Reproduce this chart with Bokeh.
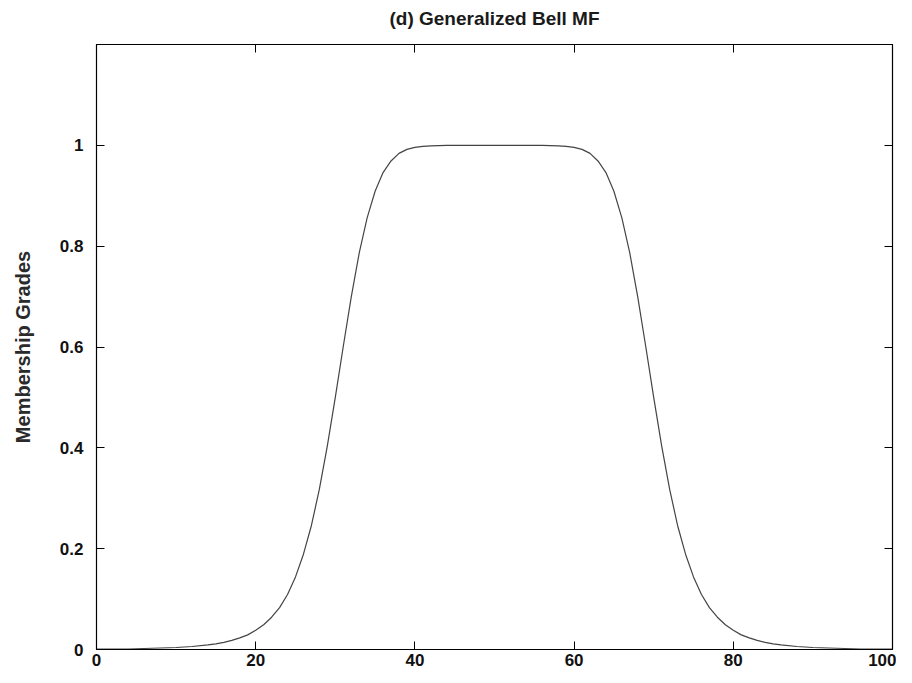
from bokeh.plotting import figure
from bokeh.models import LinearAxis, FixedTicker, Range1d, CustomJSTickFormatter
from bokeh.embed import file_html
from bokeh.resources import INLINE

x_vals = [0, 2, 4, 6, 8, 10, 12,
          14, 15, 16, 17, 18, 19, 20, 21, 22, 23, 24, 25, 26, 27, 28,
          29, 30, 31, 32, 33, 34, 35, 36, 37, 38, 39, 40, 41, 42,
          44, 46, 48, 50, 52, 54, 56,
          58, 59, 60, 61, 62, 63, 64, 65, 66, 67, 68, 69, 70, 71,
          72, 73, 74, 75, 76, 77, 78, 79, 80, 81, 82, 83, 84, 85, 86,
          88, 90, 92, 94, 96, 98, 100]
grades = [0.001, 0.001, 0.001, 0.002, 0.003, 0.004, 0.006,
          0.009, 0.011, 0.014, 0.018, 0.023, 0.029, 0.038, 0.049, 0.064, 0.083, 0.109,
          0.144, 0.189, 0.246, 0.318,
          0.404, 0.500, 0.601, 0.699, 0.786, 0.856, 0.909, 0.946, 0.969, 0.984, 0.992,
          0.996, 0.998, 0.999,
          1.000, 1.000, 1.000, 1.000, 1.000, 1.000, 1.000,
          0.999, 0.998, 0.996, 0.992, 0.984, 0.969, 0.946, 0.909, 0.856, 0.786, 0.699,
          0.601, 0.500, 0.404,
          0.318, 0.246, 0.189, 0.144, 0.109, 0.083, 0.064, 0.049, 0.038, 0.029, 0.023,
          0.018, 0.014, 0.011, 0.009,
          0.006, 0.004, 0.003, 0.002, 0.001, 0.001, 0.001]
x_ticks = [0, 20, 40, 60, 80, 100]
y_ticks = [0, 0.2, 0.4, 0.6, 0.8, 1]
y_tick_labels = {0: "0", 0.2: "0.2", 0.4: "0.4", 0.6: "0.6", 0.8: "0.8", 1: "1"}

FONT = "Liberation Sans"

p = figure(width=896, height=675, output_backend="svg", toolbar_location=None,
           x_range=Range1d(0, 100), y_range=Range1d(0, 1.2),
           min_border_left=96, min_border_right=4, min_border_top=43, min_border_bottom=26,
           title="(d) Generalized Bell MF")
p.title.align = "center"
p.title.text_font = FONT
p.title.text_font_size = "19px"
p.title.text_font_style = "bold"
p.title.text_color = "#1a1a1a"

p.line(x_vals, grades, line_color="#444444", line_width=1.2)

p.grid.visible = False
p.outline_line_color = "black"
p.outline_line_width = 1.2

for ax in p.xaxis:
    ax.ticker = FixedTicker(ticks=x_ticks)
    ax.major_tick_in = 8
    ax.major_tick_out = 0
    ax.minor_tick_in = 0
    ax.minor_tick_out = 0
    ax.major_label_standoff = 4
    ax.major_label_text_font = FONT
    ax.major_label_text_font_size = "17px"
    ax.major_label_text_font_style = "bold"
    ax.major_label_text_color = "#111111"
    ax.axis_line_color = "black"

for ax in p.yaxis:
    ax.ticker = FixedTicker(ticks=y_ticks)
    ax.major_label_overrides = y_tick_labels
    ax.major_tick_in = 8
    ax.major_tick_out = 0
    ax.minor_tick_in = 0
    ax.minor_tick_out = 0
    ax.major_label_standoff = 13
    ax.major_label_text_font = FONT
    ax.major_label_text_font_size = "17px"
    ax.major_label_text_font_style = "bold"
    ax.major_label_text_color = "#111111"
    ax.axis_label = "Membership Grades"
    ax.axis_label_text_font = FONT
    ax.axis_label_text_font_size = "20px"
    ax.axis_label_text_font_style = "bold"
    ax.axis_label_text_color = "#2a2a2a"
    ax.axis_label_standoff = 23
    ax.axis_line_color = "black"

blank = CustomJSTickFormatter(code="return ''")
top = LinearAxis(ticker=FixedTicker(ticks=x_ticks), formatter=blank, major_tick_in=8,
                 major_tick_out=0, minor_tick_in=0, minor_tick_out=0,
                 major_label_standoff=0, axis_line_color="black")
spacer = LinearAxis(ticker=FixedTicker(ticks=x_ticks), formatter=blank, major_tick_in=0,
                    major_tick_out=11, minor_tick_in=0, minor_tick_out=0,
                    major_tick_line_color=None, major_label_standoff=0,
                    axis_line_color=None)
right = LinearAxis(ticker=FixedTicker(ticks=y_ticks), formatter=blank, major_tick_in=8,
                   major_tick_out=0, minor_tick_in=0, minor_tick_out=0,
                   major_label_standoff=0, axis_line_color="black")
p.add_layout(top, "above")
p.add_layout(spacer, "above")
p.add_layout(right, "right")

open("out.html", "w").write(file_html(p, INLINE))
